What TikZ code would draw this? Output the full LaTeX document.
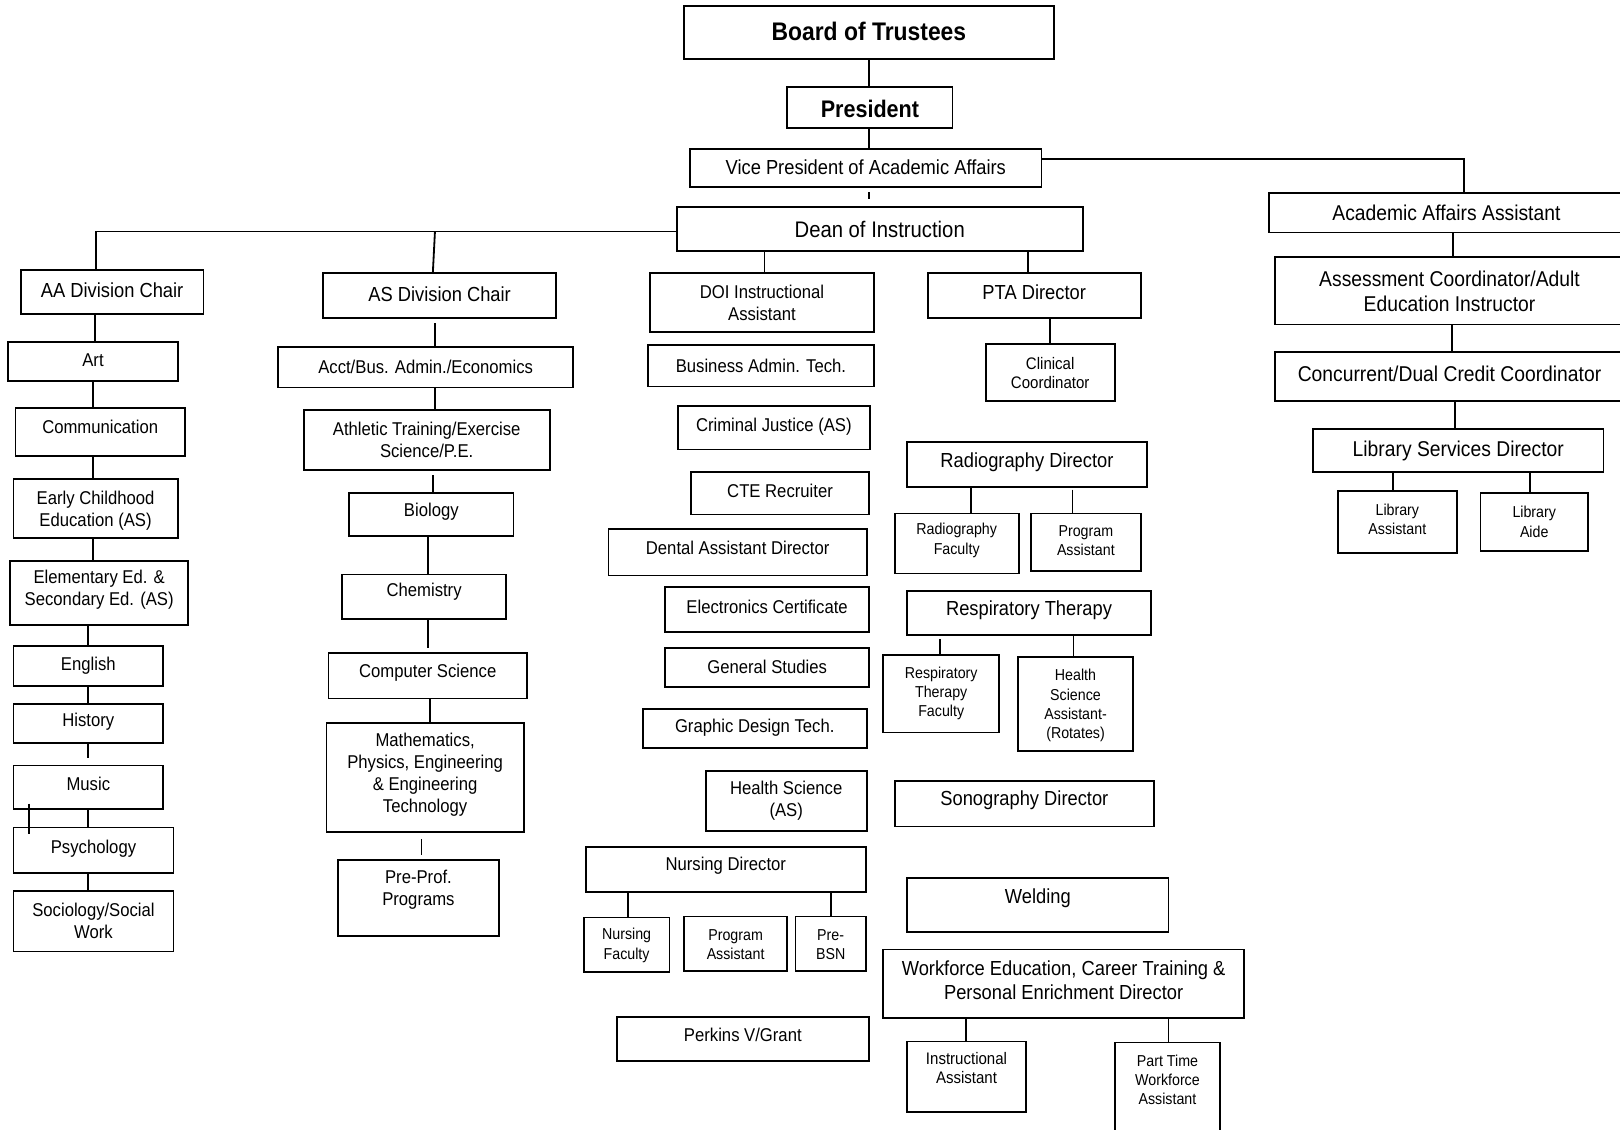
\documentclass[tikz,border=0pt]{standalone}
\usepackage{fontspec}
\setmainfont[FakeStretch=0.9]{Liberation Sans}
\usetikzlibrary{calc}
\tikzset{
  box/.style={draw=black, line width=0.5pt, inner sep=0pt},
  lbl/.style={inner sep=0pt, align=center, text=black},
  fT/.style={font=\bfseries\fontsize{7.0}{8}\selectfont},
  fP/.style={font=\bfseries\fontsize{6.6}{8}\selectfont},
  fD/.style={font=\fontsize{6.2}{7.2}\selectfont},
  fR/.style={font=\fontsize{5.9}{7.1}\selectfont},
  fA/.style={font=\fontsize{5.6}{6.5}\selectfont},
  fB/.style={font=\fontsize{5.1}{6.1}\selectfont},
  fC/.style={font=\fontsize{4.35}{5.3}\selectfont},
  fC2/.style={font=\fontsize{4.6}{5.2}\selectfont},
  conn/.style={line width=0.5pt}
}
% box: [font style]{name}{x1}{y1}{x2}{y2}{text y}{text}
\newcommand\bx[8][fB]{%
  \node[box, minimum width={(#5-#3)*0.01cm}, minimum height={(#6-#4)*0.01cm}] (#2) at ({(#3+#5)/2},{(#4+#6)/2}) {};
  \node[lbl, #1] (#2-t) at ({(#3+#5)/2},#7) {#8};
}
% vertical connector: {from}{to}{x}{gap at start}{gap at end}
\newcommand\vc[5]{%
  \draw[conn] ($(#1.south -| #3,0)+(0,#4)$) -- ($(#2.north -| #3,0)-(0,#5)$);
}
\begin{document}
\begin{tikzpicture}[x=0.01cm, y=-0.01cm]
\useasboundingbox (0,0) rectangle (1568,1093);
\fill[white] (0,0) rectangle (1568,1093);

% top
\bx[fT]{board}{662}{6}{1020}{57}{30}{Board of Trustees}
\bx[fP]{pres}{762}{84}{922}{124}{105}{President}
\bx[fA]{vp}{668}{144}{1008}{181}{162}{Vice President of Academic Affairs}
\bx[fD]{dean}{655}{200}{1048}{243}{222}{Dean of Instruction}

% right column
\bx[fR]{aaa}{1228}{187}{1572}{225}{206}{Academic Affairs Assistant}
\bx[fR]{assess}{1234}{249}{1572}{314}{282}{Assessment Coordinator/Adult\\Education Instructor}
\bx[fR]{conc}{1234}{341}{1572}{388}{362}{Concurrent/Dual Credit Coordinator}
\bx[fR]{lsd}{1271}{415}{1552}{457}{436}{Library Services Director}
\bx[fC]{libasst}{1295}{475}{1410}{535}{503}{Library\\Assistant}
\bx[fC]{libaide}{1433}{477}{1537}{533}{505}{Library\\Aide}

% AA column
\bx[fA]{aa}{20}{261}{197}{304}{281}{AA Division Chair}
\bx{art}{8}{331}{172}{369}{349}{Art}
\bx{comm}{15}{395}{179}{441}{413}{Communication}
\bx{ece}{13}{464}{172}{521}{494}{Early Childhood\\Education (AS)}
\bx{elem}{10}{543}{182}{605}{571}{Elementary Ed. \&\\Secondary Ed. (AS)}
\bx{eng}{13}{625}{158}{664}{644}{English}
\bx{hist}{13}{681}{158}{719}{699}{History}
\bx{music}{13}{741}{158}{783}{759}{Music}
\bx{psych}{13}{801}{168}{845}{821}{Psychology}
\bx{soc}{13}{862}{168}{921}{891}{Sociology/Social\\Work}

% AS column
\bx[fA]{as}{313}{264}{538}{308}{285}{AS Division Chair}
\bx{acct}{269}{336}{555}{375}{355}{Acct/Bus. Admin./Economics}
\bx{ath}{294}{397}{532}{455}{426}{Athletic Training/Exercise\\Science/P.E.}
\bx{bio}{338}{477}{497}{519}{495}{Biology}
\bx{chem}{331}{556}{490}{599}{573}{Chemistry}
\bx{cs}{318}{632}{510}{676}{651}{Computer Science}
\bx{math}{316}{700}{507}{805}{750}{Mathematics,\\Physics, Engineering\\\& Engineering\\Technology}
\bx{pre}{327}{832}{483}{906}{861}{Pre-Prof.\\Programs}

% DOI column
\bx{doi}{629}{264}{846}{321}{293}{DOI Instructional\\Assistant}
\bx{bus}{627}{334}{846}{374}{354}{Business Admin. Tech.}
\bx{crim}{656}{393}{842}{435}{413}{Criminal Justice (AS)}
\bx{cte}{669}{457}{841}{498}{475}{CTE Recruiter}
\bx{dental}{589}{512}{839}{557}{530}{Dental Assistant Director}
\bx{elec}{644}{568}{841}{612}{587}{Electronics Certificate}
\bx{gen}{644}{627}{841}{665}{645}{General Studies}
\bx{graph}{622}{686}{839}{724}{704}{Graphic Design Tech.}
\bx{hs}{683}{746}{839}{804}{775}{Health Science\\(AS)}
\bx{nd}{567}{820}{838}{863}{838}{Nursing Director}
\bx[fC]{nf}{565}{888}{648}{941}{915}{Nursing\\Faculty}
\bx[fC]{npa}{662}{887}{762}{940}{914}{Program\\Assistant}
\bx[fC]{pbsn}{770}{887}{838}{940}{914}{Pre-\\BSN}
\bx{perk}{597}{984}{841}{1027}{1002}{Perkins V/Grant}

% PTA column
\bx[fA]{pta}{898}{264}{1104}{308}{283}{PTA Director}
\bx[fC2]{cc}{954}{333}{1079}{388}{361}{Clinical\\Coordinator}
\bx[fA]{rad}{878}{428}{1110}{471}{447}{Radiography Director}
\bx[fC]{rf}{866}{497}{986}{555}{523}{Radiography\\Faculty}
\bx[fC]{rpa}{998}{497}{1104}{553}{523}{Program\\Assistant}
\bx[fA]{resp}{878}{572}{1114}{615}{591}{Respiratory Therapy}
\bx[fC]{rtf}{855}{634}{967}{709}{671}{Respiratory\\Therapy\\Faculty}
\bx[fC]{hsa}{985}{636}{1097}{727}{683}{Health\\Science\\Assistant-\\(Rotates)}
\bx[fA]{sono}{866}{756}{1117}{800}{775}{Sonography Director}
\bx[fA]{weld}{878}{850}{1131}{902}{869}{Welding}
\bx[fA]{wfe}{855}{919}{1204}{985}{949}{Workforce Education, Career Training \&\\Personal Enrichment Director}
\bx[fC2]{ia}{878}{1008}{993}{1076}{1034}{Instructional\\Assistant}
\bx[fC]{pt}{1079}{1009}{1181}{1097}{1045}{Part Time\\Workforce\\Assistant}

% connectors: top
\vc{board}{pres}{841}{0}{0}
\vc{pres}{vp}{841}{0}{0}
\vc{vp}{dean}{841}{4}{7}
\coordinate (j1) at (93,224);
\coordinate (j2) at (421,224);
\coordinate (j3) at (1417,154);
\draw[conn] (dean.west |- j1) -- (j1) -- (aa.north -| j1);
\draw[conn] (j2) -- (as.north -| 419,0);
\draw[conn] (vp.east |- j3) -- (j3) -- (aaa.north -| j3);

% right column
\vc{aaa}{assess}{1406}{0}{0}
\vc{assess}{conc}{1405}{0}{0}
\vc{conc}{lsd}{1408}{0}{0}
\vc{lsd}{libasst}{1348}{0}{0}
\vc{lsd}{libaide}{1481}{0}{0}

% AA column
\vc{aa}{art}{92}{0}{0}
\vc{art}{comm}{90}{0}{0}
\vc{comm}{ece}{90}{0}{0}
\vc{ece}{elem}{90}{0}{0}
\vc{elem}{eng}{85}{0}{0}
\vc{eng}{hist}{85}{0}{0}
\vc{hist}{music}{85}{0}{6}
\vc{music}{psych}{85}{0}{0}
\vc{psych}{soc}{85}{0}{0}
\draw[conn] ($(music.south west)+(16,-6)$) -- ($(psych.north west)+(16,7)$);

% AS column
\vc{as}{acct}{421}{4}{0}
\vc{acct}{ath}{421}{0}{0}
\vc{ath}{bio}{419}{4}{0}
\vc{bio}{chem}{414}{0}{0}
\vc{chem}{cs}{414}{0}{4}
\vc{cs}{math}{416}{0}{0}
\vc{math}{pre}{408}{6}{4}

% DOI / PTA
\vc{dean}{doi}{740}{0}{0}
\vc{dean}{pta}{995}{0}{0}
\vc{pta}{cc}{1016}{0}{0}
\vc{rad}{rf}{940}{0}{0}
\vc{rad}{rpa}{1038}{2}{0}
\vc{resp}{rtf}{910}{3}{0}
\vc{resp}{hsa}{1039}{0}{0}
\vc{nd}{nf}{608}{0}{0}
\vc{nd}{pbsn}{804}{0}{0}
\vc{wfe}{ia}{935}{0}{0}
\vc{wfe}{pt}{1131}{0}{0}
\end{tikzpicture}
\end{document}
